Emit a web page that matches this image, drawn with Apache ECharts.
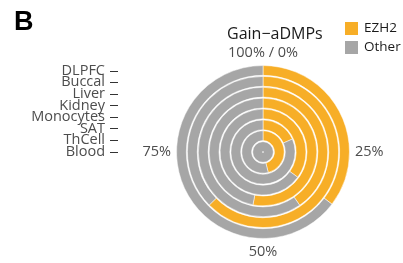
<!DOCTYPE html>
<html>
<head>
<meta charset="UTF-8">
<title>Gain-aDMPs</title>
<script src="https://cdn.jsdelivr.net/npm/echarts@6.0.0/dist/echarts.min.js"></script>
<style>
  html, body { margin: 0; padding: 0; background: #fff; }
  #chart { width: 403px; height: 263px; }
</style>
</head>
<body>
<div id="chart"></div>
<script>
// tissues, inner ring first
const tissues = ['Blood', 'ThCell', 'SAT', 'Monocytes', 'Kidney', 'Liver', 'Buccal', 'DLPFC'];
// percentage of Gain-aDMPs that are EZH2 targets
const ezh2 = [0, 46, 18.4, 35, 53, 40.4, 62.6, 35.3];
const other = ezh2.map(v => 100 - v);
const angleTicks = [0, 25, 50, 75, 100];

const ORANGE = '#F7AE27';
const GREY = '#A6A6A6';
const FONT = 'Open Sans';

const chart = echarts.init(document.getElementById('chart'));
chart.setOption({
  animation: false,
  textStyle: { fontFamily: FONT },
  title: [
    { text: 'B', left: 9, top: 4, textStyle: { fontFamily: 'Liberation Sans', fontSize: 27, fontWeight: 'bold', color: '#000' } },
    { text: 'Gain\u2212aDMPs', left: 222, top: 21, textStyle: { fontFamily: FONT, fontSize: 16, fontWeight: 'normal', color: '#1a1a1a' } }
  ],
  legend: {
    orient: 'vertical',
    left: 343, top: 20,
    itemWidth: 15, itemHeight: 15, itemGap: 2, padding: 0,
    icon: 'rect',
    textStyle: { fontFamily: FONT, fontSize: 13.5, color: '#1a1a1a' },
    data: ['EZH2', 'Other']
  },
  polar: { center: [263, 152], radius: [0, 87] },
  angleAxis: {
    type: 'value', min: angleTicks[0], max: angleTicks[4], interval: 25,
    startAngle: 90, clockwise: true,
    axisLine: { show: false },
    axisTick: { show: false },
    splitLine: { show: false },
    axisLabel: {
      margin: 5, fontSize: 14.5, color: '#4d4d4d', fontFamily: FONT,
      formatter: v => v === 0 ? '100% / 0%' : (v === 100 ? '' : v + '%')
    }
  },
  radiusAxis: {
    type: 'category', data: tissues,
    axisLine: { show: false }, axisTick: { show: false },
    axisLabel: { show: false }, splitLine: { show: false }
  },
  // side labels for the rings
  grid: { left: 118, top: 65, height: 92.6, width: 1 },
  xAxis: { type: 'value', show: false },
  yAxis: {
    type: 'category', data: tissues,
    axisLine: { show: false },
    axisTick: { show: true, interval: 0, length: 8, alignWithLabel: true, lineStyle: { color: '#333', width: 1 } },
    axisLabel: { interval: 0, margin: 13, fontSize: 14.5, color: '#4d4d4d', fontFamily: FONT, lineHeight: 12 }
  },
  series: [
    {
      name: 'EZH2', type: 'bar', coordinateSystem: 'polar', stack: 'g',
      data: ezh2, barCategoryGap: '10%',
      itemStyle: { color: ORANGE, borderColor: '#fff', borderWidth: 0.5 }
    },
    {
      name: 'Other', type: 'bar', coordinateSystem: 'polar', stack: 'g',
      data: other, barCategoryGap: '10%',
      itemStyle: { color: GREY, borderColor: '#fff', borderWidth: 0.5 }
    }
  ]
});
</script>
</body>
</html>
